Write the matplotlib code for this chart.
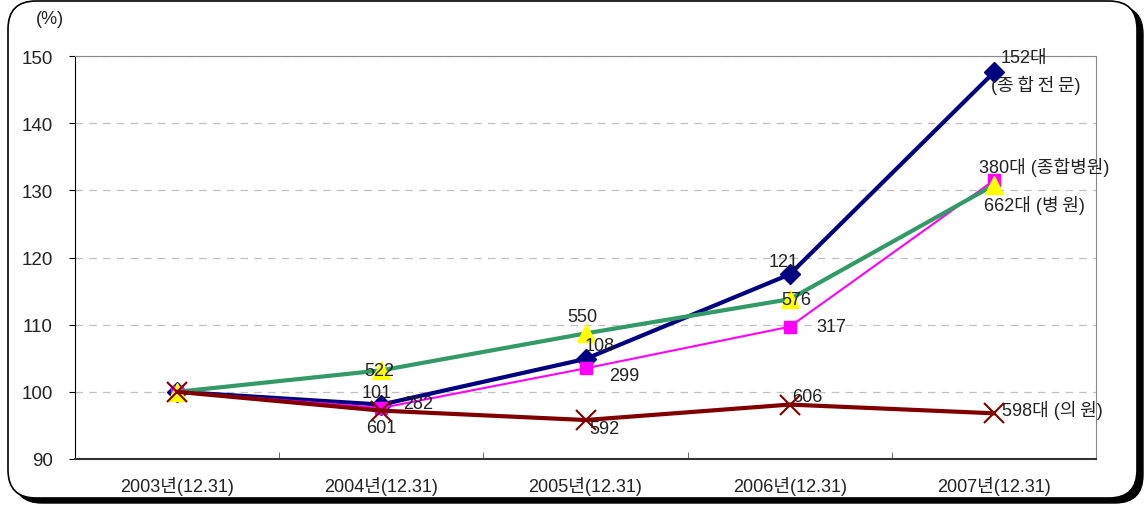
import matplotlib.pyplot as plt
from matplotlib.patches import FancyBboxPatch

plt.rcParams['font.family'] = ['Liberation Sans', 'Noto Sans CJK KR', 'DejaVu Sans']

# data (index, 2003 = 100)
years = ['2003년(12.31)', '2004년(12.31)', '2005년(12.31)', '2006년(12.31)', '2007년(12.31)']
general_special = [100, 98.1, 104.9, 117.5, 147.6]   # 종합전문
general_hosp = [100, 97.6, 103.5, 109.7, 131.5]      # 종합병원
hospital = [100, 103.2, 108.7, 113.8, 130.8]         # 병원
clinic = [100, 97.2, 95.8, 98.1, 96.8]               # 의원

ts = '\u2009'
gs_labels = ['', '101', '108', '121', '152대']
gh_labels = ['', '282', '299', '317', '380대 (종합병원)']
h_labels = ['', '522', '550', '576', '662대 (' + ts.join('병원') + ')']
c_labels = ['', '601', '592', '606', '598대 (' + ts.join('의원') + ')']
gs_name = '(' + ts.join('종합전문') + ')'

fig = plt.figure(figsize=(11.44, 5.06), dpi=100)

# rounded frame with shadow (inches)
shadow = FancyBboxPatch((0.14, 0.02), 11.29, 4.97, boxstyle='round,pad=0,rounding_size=0.28',
                        transform=fig.dpi_scale_trans, facecolor='black', edgecolor='black', zorder=0)
frame = FancyBboxPatch((0.08, 0.07), 11.29, 4.97, boxstyle='round,pad=0,rounding_size=0.28',
                       transform=fig.dpi_scale_trans, facecolor='white', edgecolor='black', lw=1.2, zorder=1)
fig.patches.extend([shadow, frame])

ax = fig.add_axes([0.0656, 0.091, 0.8925, 0.796])
ax.set_zorder(2)
ax.patch.set_alpha(0)

x = range(len(years))
ax.plot(x, general_special, color='#000080', lw=3, marker='D', ms=10, mfc='#000080', mec='#000080', zorder=3)
ax.plot(x, general_hosp, color='#FF00FF', lw=1.5, marker='s', ms=8, mfc='#FF00FF', mec='#FF00FF', zorder=4)
ax.plot(x, hospital, color='#339966', lw=3, zorder=5)
ax.plot(x, hospital, ls='none', marker='^', ms=13, mfc='#FFFF00', mec='#FFFF00', zorder=5)
ax.plot(x, clinic, color='#800000', lw=3, zorder=6)
ax.plot(x, clinic, ls='none', marker='x', ms=14, mew=1.5, color='#800000', zorder=6)

ax.set_xlim(-0.5, 4.5)
ax.set_ylim(90, 150)
ax.set_yticks(range(90, 151, 10))
ax.set_xticks(list(x))
ax.set_xticklabels(years, fontsize=13)
ax.set_xticks([0.5, 1.5, 2.5, 3.5], minor=True)
ax.tick_params(axis='x', which='major', length=0, pad=12, colors='#222222')
ax.tick_params(axis='x', which='minor', direction='in', length=5, color='#555555')
ax.tick_params(axis='y', direction='out', length=4, labelsize=13.5, pad=12, labelcolor='#222222')

ax.grid(axis='y', ls=(0, (6, 5)), color='#c0c0c0', lw=0.9)
ax.spines['left'].set_color('black')
ax.spines['bottom'].set_color('#333333')
ax.spines['bottom'].set_linewidth(1.5)
ax.spines['top'].set_color('#888888')
ax.spines['right'].set_color('#888888')

fig.text(0.031, 0.952, '(%)', fontsize=13, color='#222222')

fs = 13
def label(vals, labels, offsets, ha='left', va='center'):
    for i, (v, s) in enumerate(zip(vals, labels)):
        if s:
            dx, dy = offsets[i]
            ax.annotate(s, (i, v), xytext=(dx, dy), textcoords='offset points',
                        fontsize=fs, ha=ha, va=va, color='#222222', zorder=10)

label(general_special, gs_labels, [None, (-14, 9), (-1, 10), (-15, 9), (5, 11)], ha='left')
label(general_hosp, gh_labels, [None, (16, 3), (17, -5), (19, 0), (-11, 10)], ha='left')
label(hospital, h_labels, [None, (-12, 0), (-13, 12), (-6, 0), (-7, -14)], ha='left')
label(clinic, c_labels, [None, (-11, -12), (3, -6), (2, 6), (6, 3)], ha='left')
ax.annotate(gs_name, (4, general_special[4]), xytext=(-2, -9), textcoords='offset points',
            fontsize=fs, ha='left', va='center', color='#222222', zorder=10)

plt.savefig('out.png', dpi=100)
